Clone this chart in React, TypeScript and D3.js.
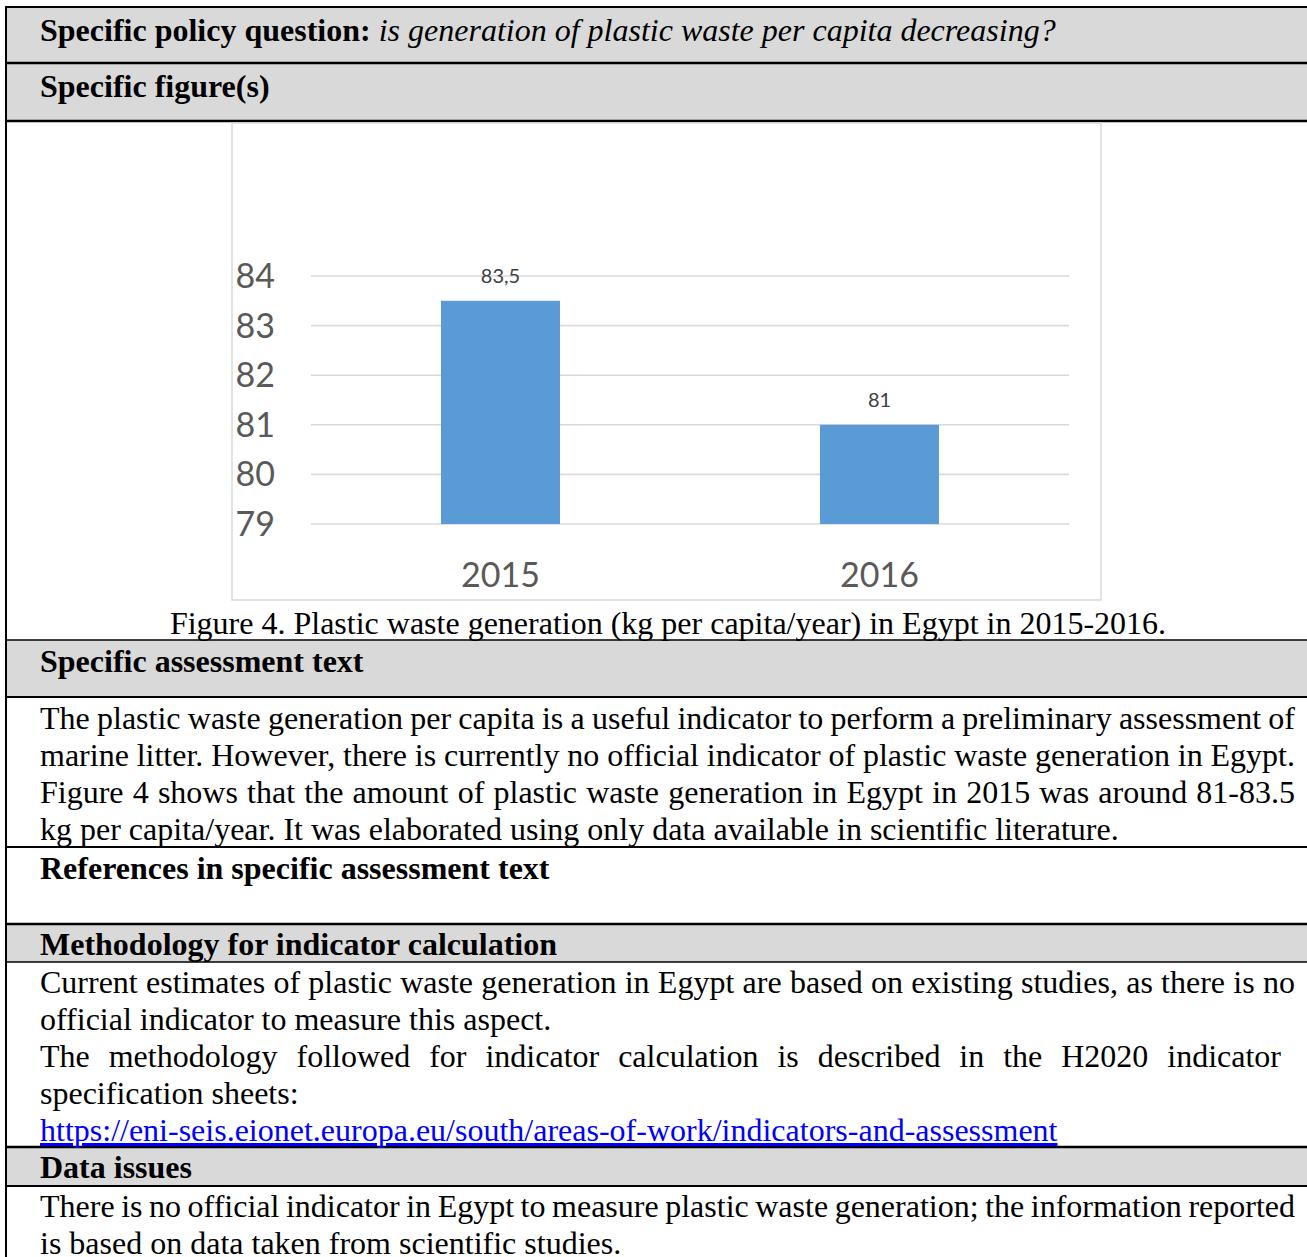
import React, { useEffect, useRef } from 'react';
import * as d3 from 'd3';

const categories = ['2015', '2016'];
const values = [83.5, 81];
const valueLabels = ['83,5', '81'];
const yTicks = [79, 80, 81, 82, 83, 84];

const assessmentLines = [
  'The plastic waste generation per capita is a useful indicator to perform a preliminary assessment of',
  'marine litter. However, there is currently no official indicator of plastic waste generation in Egypt.',
  'Figure 4 shows that the amount of plastic waste generation in Egypt in 2015 was around 81-83.5',
  'kg per capita/year. It was elaborated using only data available in scientific literature.',
];
const methodLines = [
  'Current estimates of plastic waste generation in Egypt are based on existing studies, as there is no',
  'official indicator to measure this aspect.',
  'The methodology followed for indicator calculation is described in the H2020 indicator',
  'specification sheets:',
];
const linkText = 'https://eni-seis.eionet.europa.eu/south/areas-of-work/indicators-and-assessment';
const dataLines = [
  'There is no official indicator in Egypt to measure plastic waste generation; the information reported',
  'is based on data taken from scientific studies.',
];

const SERIF = '"Liberation Serif", "Times New Roman", serif';
const SANS = 'Lato, Calibri, "Open Sans", sans-serif';

export default function App() {
  const ref = useRef<SVGSVGElement>(null);

  const x = d3.scaleBand<string>().domain(categories).range([311, 1069]).paddingInner(0.686).paddingOuter(0.343);
  const y = d3.scaleLinear().domain([79, 84]).range([524, 276]);

  useEffect(() => {
    if (!ref.current) return;
    d3.select(ref.current)
      .selectAll<SVGTextElement, unknown>('text.justify')
      .each(function () {
        const el = this as SVGTextElement;
        const target = +(el.getAttribute('data-target') || 0);
        const txt = el.textContent || '';
        const spaces = (txt.match(/ /g) || []).length;
        el.style.wordSpacing = '0px';
        const w = el.getComputedTextLength();
        if (spaces > 0) {
          el.style.wordSpacing = `${(target - 40 - w) / spaces}px`;
        }
      });
  }, []);

  const rows: [number, number][] = [
    [7, 63],
    [63, 121],
    [640, 697],
    [924, 962],
    [1147, 1186],
  ];
  const hLines: [number, number][] = [
    [7, 2],
    [63, 2.5],
    [121, 2.5],
    [640, 1.6],
    [697, 2],
    [847, 2],
    [924, 2.5],
    [962, 1.6],
    [1147, 2.5],
    [1186, 2],
  ];

  const bodyText = (lines: string[], y0: number, justifyIdx: number[], targets: number[]) =>
    lines.map((l, i) => {
      const j = justifyIdx.indexOf(i);
      return (
        <text
          key={l}
          className={j >= 0 ? 'justify' : undefined}
          data-target={j >= 0 ? targets[j] : undefined}
          x={40}
          y={y0 + i * 37}
          fontFamily={SERIF}
          fontSize={32}
          fill="#000"
        >
          {l}
        </text>
      );
    });

  return (
    <svg
      ref={ref}
      width={1307}
      height={1257}
      style={{ position: 'absolute', left: 0, top: 0, background: '#fff' }}
    >
      <rect x={0} y={0} width={1307} height={1257} fill="#fff" />
      {rows.map(([a, b]) => (
        <rect key={a} x={7} y={a} width={1300} height={b - a} fill="#d9d9d9" />
      ))}
      {hLines.map(([yy, w]) => (
        <line key={yy} x1={5} x2={1307} y1={yy} y2={yy} stroke="#000" strokeWidth={w} />
      ))}
      <line x1={6} x2={6} y1={6} y2={1257} stroke="#000" strokeWidth={2} />

      {/* header texts */}
      <text x={40} y={41} fontFamily={SERIF} fontSize={32} fill="#000">
        <tspan fontWeight="bold">Specific policy question: </tspan>
        <tspan fontStyle="italic">is generation of plastic waste per capita decreasing?</tspan>
      </text>
      <text x={40} y={97} fontFamily={SERIF} fontSize={32} fontWeight="bold">Specific figure(s)</text>

      {/* chart */}
      <rect x={232} y={123} width={869} height={477} fill="#fff" stroke="#d9d9d9" strokeWidth={1.5} />
      {yTicks.map((t) => (
        <g key={t}>
          <line x1={311} x2={1069} y1={y(t)} y2={y(t)} stroke="#d9d9d9" strokeWidth={1.6} />
          <text x={275} y={y(t) + 12} textAnchor="end" fontFamily={SANS} fontSize={34} fill="#595959">
            {t}
          </text>
        </g>
      ))}
      {categories.map((c, i) => (
        <g key={c}>
          <rect x={x(c)} y={y(values[i])} width={x.bandwidth()} height={y(79) - y(values[i])} fill="#5b9bd5" />
          <text
            x={(x(c) || 0) + x.bandwidth() / 2}
            y={y(values[i]) - 18}
            textAnchor="middle"
            fontFamily={SANS}
            fontSize={20}
            fill="#404040"
          >
            {valueLabels[i]}
          </text>
          <text
            x={(x(c) || 0) + x.bandwidth() / 2}
            y={587}
            textAnchor="middle"
            fontFamily={SANS}
            fontSize={34}
            fill="#595959"
          >
            {c}
          </text>
        </g>
      ))}
      <text x={668} y={634} textAnchor="middle" fontFamily={SERIF} fontSize={32}>
        Figure 4. Plastic waste generation (kg per capita/year) in Egypt in 2015-2016.
      </text>

      <text x={40} y={672} fontFamily={SERIF} fontSize={32} fontWeight="bold">Specific assessment text</text>
      {bodyText(assessmentLines, 729, [0, 1, 2], [1295, 1295, 1295])}

      <text x={40} y={879} fontFamily={SERIF} fontSize={32} fontWeight="bold">References in specific assessment text</text>
      <text x={40} y={955} fontFamily={SERIF} fontSize={32} fontWeight="bold">Methodology for indicator calculation</text>
      {bodyText(methodLines, 993, [0, 2], [1295, 1281])}
      <text x={40} y={1141} fontFamily={SERIF} fontSize={32} fill="#0000ff" textDecoration="underline">
        {linkText}
      </text>

      <text x={40} y={1178} fontFamily={SERIF} fontSize={32} fontWeight="bold">Data issues</text>
      {bodyText(dataLines, 1217, [0], [1295])}
    </svg>
  );
}
